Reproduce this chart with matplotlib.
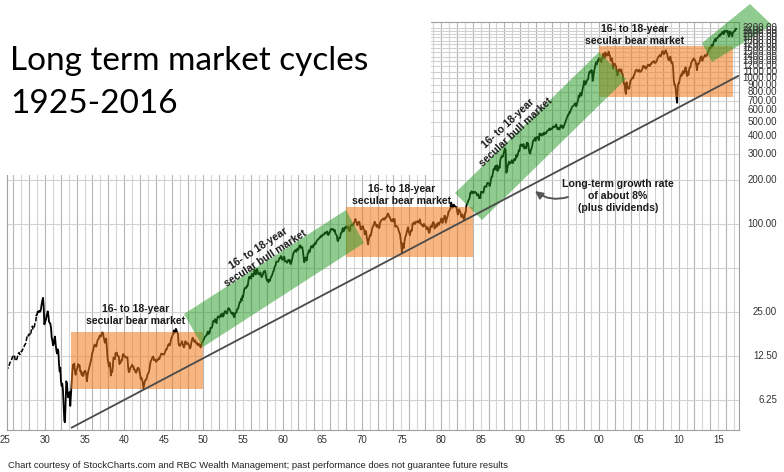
import matplotlib
matplotlib.use("Agg")
import matplotlib.pyplot as plt
from matplotlib.patches import Rectangle, Polygon

# ---------------- data (monthly S&P 500 levels) ----------------
spx_1925_1929 = [
    10.6, 10.7, 10.6, 10.3, 10.5, 10.8, 11.2, 11.4, 11.6, 11.9, 12.3, 12.5,
    12.7, 12.6, 11.8, 11.6, 11.7, 12.1, 12.6, 13.0, 13.2, 12.8, 13.0, 13.4,
    13.4, 13.8, 14.0, 14.2, 14.8, 15.0, 15.3, 16.2, 17.0, 16.8, 17.4, 17.7,
    17.5, 17.3, 18.3, 19.3, 20.0, 19.1, 19.2, 20.0, 21.2, 21.5, 23.8, 24.0,
    25.2, 25.0, 25.4, 25.1, 25.3, 26.4, 28.5, 30.1, 31.3, 27.0, 20.6, 21.4]
spx_1930s = [
    21.9, 23.0, 24.3, 25.3, 23.9, 21.5, 21.1, 20.8, 19.5, 16.8, 16.0, 14.8,
    15.0, 16.3, 17.0, 15.1, 13.7, 13.0, 13.9, 13.5, 11.1, 9.8, 10.4, 8.4,
    7.8, 8.1, 7.3, 5.8, 4.5, 4.4, 6.1, 8.4, 8.1, 6.9, 6.5, 6.9,
    7.1, 5.7, 6.8, 8.3, 9.6, 10.9, 10.3, 11.1, 9.8, 9.3, 10.0, 10.1,
    10.6, 11.0, 10.6, 10.8, 9.8, 9.9, 9.3, 9.6, 9.1, 9.3, 9.8, 9.9,
    9.8, 9.4, 8.4, 9.2, 9.8, 10.2, 10.7, 11.1, 11.6, 12.2, 13.1, 13.4,
    14.1, 14.8, 15.0, 14.7, 14.5, 15.1, 16.0, 16.3, 16.5, 17.1, 17.3, 17.0,
    17.5, 18.1, 18.1, 17.0, 16.2, 15.4, 16.1, 16.5, 14.1, 12.2, 11.4, 10.6,
    11.3, 10.9, 9.2, 9.8, 9.7, 10.6, 12.2, 12.0, 11.9, 13.1, 13.1, 13.2,
    12.5, 12.5, 12.4, 11.0, 11.3, 11.3, 11.8, 11.7, 12.8, 12.9, 12.4, 12.5]
spx_1940s = [
    12.3, 12.2, 12.2, 12.3, 10.5, 9.7, 9.8, 10.2, 10.5, 10.6, 10.9, 10.6,
    10.6, 10.1, 10.1, 9.7, 9.6, 9.8, 10.3, 10.4, 10.3, 9.9, 9.4, 8.7,
    8.9, 8.6, 8.3, 7.5, 7.9, 8.3, 8.6, 8.6, 8.8, 9.3, 9.5, 9.6,
    10.1, 10.9, 11.5, 11.7, 12.1, 12.3, 12.4, 11.7, 11.8, 11.8, 11.4, 11.5,
    11.8, 11.8, 12.1, 11.9, 12.3, 12.7, 13.0, 12.9, 12.8, 12.9, 12.8, 13.1,
    13.5, 13.9, 13.9, 14.3, 14.8, 15.1, 14.8, 14.8, 15.8, 16.5, 17.0, 17.3,
    18.0, 18.7, 18.0, 18.7, 19.2, 18.6, 18.1, 17.7, 15.1, 14.7, 14.7, 15.1,
    15.2, 15.8, 15.2, 14.6, 14.3, 14.8, 15.8, 15.6, 15.1, 15.3, 15.3, 15.0,
    14.7, 14.1, 14.3, 15.3, 16.1, 16.7, 16.4, 15.8, 15.6, 16.0, 15.4, 15.2,
    15.4, 14.8, 15.0, 15.1, 14.8, 14.3, 14.8, 15.4, 15.6, 16.0, 16.3, 16.8]
spx_1950s = [
    17.0, 17.2, 17.3, 17.9, 18.4, 17.7, 17.8, 18.4, 19.5, 19.5, 19.5, 20.4,
    21.7, 21.8, 21.5, 22.4, 21.5, 21.0, 22.4, 23.3, 23.3, 22.9, 23.0, 23.8,
    24.1, 23.3, 24.4, 23.3, 23.9, 25.0, 25.4, 25.0, 24.5, 24.5, 26.0, 26.6,
    26.4, 25.9, 25.3, 24.6, 24.5, 24.1, 24.8, 23.3, 23.0, 24.5, 24.8, 24.8,
    26.1, 26.2, 26.9, 28.3, 29.2, 29.2, 30.9, 30.0, 32.3, 31.7, 34.2, 36.0,
    36.6, 36.8, 36.6, 38.0, 37.9, 41.0, 43.5, 43.2, 43.7, 42.3, 45.5, 45.5,
    43.8, 45.3, 48.5, 48.4, 45.2, 47.0, 49.4, 47.5, 45.4, 45.6, 45.1, 46.7,
    44.7, 43.3, 44.1, 45.7, 47.4, 47.4, 47.9, 45.2, 42.4, 41.1, 41.7, 40.0,
    41.7, 40.8, 42.1, 43.4, 44.1, 45.2, 47.2, 47.8, 50.1, 51.3, 52.5, 55.2,
    55.4, 55.4, 55.4, 57.6, 58.7, 58.5, 60.5, 59.6, 56.9, 57.5, 58.3, 59.9]
spx_1960s = [
    55.6, 56.1, 55.3, 54.4, 55.8, 56.9, 55.5, 57.0, 53.5, 53.4, 55.5, 58.1,
    61.8, 63.4, 65.1, 65.3, 66.6, 64.6, 66.8, 68.1, 66.7, 68.6, 71.3, 71.6,
    68.8, 70.0, 69.6, 65.2, 59.6, 54.8, 58.2, 59.1, 56.3, 56.5, 62.3, 63.1,
    66.2, 64.3, 66.6, 69.8, 70.8, 69.4, 69.1, 72.5, 71.7, 74.0, 73.2, 75.0,
    77.0, 77.8, 79.0, 79.5, 80.4, 81.7, 83.2, 81.8, 84.2, 84.9, 84.4, 84.8,
    87.6, 87.4, 86.2, 89.1, 88.4, 84.1, 85.3, 87.2, 90.0, 92.4, 91.6, 92.4,
    92.9, 91.2, 89.2, 91.1, 86.1, 84.7, 83.6, 77.1, 76.6, 80.2, 80.5, 80.3,
    86.6, 86.8, 90.2, 94.0, 89.1, 90.6, 94.8, 93.6, 96.7, 93.3, 94.0, 96.5,
    92.2, 89.4, 90.2, 97.5, 98.7, 99.6, 97.7, 98.9, 102.7, 103.4, 108.4, 103.9,
    103.0, 98.1, 101.5, 103.7, 103.5, 97.7, 91.8, 95.5, 93.1, 97.2, 93.8, 92.1]
spx_1970s = [
    85.0, 89.5, 89.6, 81.5, 76.6, 72.7, 78.1, 81.5, 84.2, 83.3, 87.2, 92.2,
    95.9, 96.8, 100.3, 104.0, 99.6, 99.7, 95.6, 99.0, 98.3, 94.2, 94.0, 102.1,
    103.9, 106.6, 107.2, 107.7, 109.5, 107.1, 107.4, 111.1, 110.6, 111.6, 116.7, 118.1,
    116.0, 111.7, 111.5, 107.0, 105.0, 104.3, 108.2, 104.3, 108.4, 108.3, 96.0, 97.6,
    96.6, 96.2, 94.0, 90.3, 87.3, 86.0, 79.3, 72.2, 63.5, 73.9, 70.0, 68.6,
    77.0, 81.6, 83.4, 87.3, 91.2, 95.2, 88.8, 86.9, 83.9, 89.0, 91.2, 90.2,
    100.9, 99.7, 102.8, 101.6, 100.2, 104.3, 103.4, 102.9, 105.2, 102.9, 102.1, 107.5,
    102.0, 99.8, 98.4, 98.4, 96.1, 100.5, 98.9, 96.8, 96.5, 92.3, 94.8, 95.1,
    89.3, 87.0, 89.2, 97.0, 97.2, 95.5, 100.7, 103.3, 102.5, 93.2, 94.7, 96.1,
    99.9, 96.3, 101.6, 101.8, 99.1, 102.9, 103.8, 109.3, 109.3, 101.8, 106.2, 107.9]
spx_1980s = [
    114.2, 113.7, 102.1, 106.3, 111.2, 114.2, 121.7, 122.4, 125.5, 127.5, 140.5, 135.8,
    129.6, 131.3, 136.0, 132.8, 132.6, 131.2, 130.9, 122.8, 116.2, 121.9, 126.4, 122.6,
    120.4, 113.1, 112.0, 116.4, 111.9, 109.6, 107.1, 119.5, 120.4, 133.7, 138.5, 140.6,
    145.3, 148.1, 153.0, 164.4, 162.4, 168.1, 162.6, 164.4, 166.1, 163.6, 166.4, 164.9,
    163.4, 157.1, 159.2, 160.1, 150.6, 153.2, 150.7, 166.7, 166.1, 166.1, 163.6, 167.2,
    179.6, 181.2, 180.7, 179.8, 189.6, 191.9, 190.9, 188.6, 182.1, 189.8, 202.2, 211.3,
    211.8, 226.9, 238.9, 235.5, 247.4, 250.8, 236.1, 252.9, 231.3, 244.0, 249.2, 242.2,
    274.1, 284.2, 291.7, 288.4, 290.1, 304.0, 318.7, 329.8, 321.8, 224.8, 230.3, 247.1,
    257.1, 267.8, 258.9, 261.3, 262.2, 273.5, 272.0, 261.5, 271.9, 279.0, 273.7, 277.7,
    297.5, 288.9, 294.9, 309.6, 320.5, 318.0, 346.1, 351.5, 349.2, 340.4, 346.0, 353.4]
spx_1990s = [
    329.1, 331.9, 339.9, 330.8, 361.2, 358.0, 356.2, 322.6, 306.1, 304.0, 322.2, 330.2,
    343.9, 367.1, 375.2, 375.3, 389.8, 371.2, 387.8, 395.4, 387.9, 392.5, 375.2, 417.1,
    408.8, 412.7, 403.7, 415.0, 415.4, 408.1, 424.2, 414.0, 417.8, 418.7, 431.4, 435.7,
    438.8, 443.4, 451.7, 440.2, 450.2, 450.5, 448.1, 463.6, 458.9, 467.8, 461.8, 466.5,
    481.6, 467.1, 445.8, 450.9, 456.5, 444.3, 458.3, 475.5, 462.7, 472.4, 453.7, 459.3,
    470.4, 487.4, 500.7, 514.7, 533.4, 544.8, 562.1, 561.9, 584.4, 581.5, 605.4, 615.9,
    636.0, 640.4, 645.5, 654.2, 669.1, 670.6, 640.0, 652.0, 687.3, 705.3, 757.0, 740.7,
    786.2, 790.8, 757.1, 801.3, 848.3, 885.1, 954.3, 899.5, 947.3, 914.6, 955.4, 970.4,
    980.3, 1049.3, 1101.8, 1111.8, 1090.8, 1133.8, 1120.7, 957.3, 1017.0, 1098.7, 1163.6, 1229.2,
    1279.6, 1238.3, 1286.4, 1335.2, 1301.8, 1372.7, 1328.7, 1320.4, 1282.7, 1362.9, 1388.9, 1469.3]
spx_2000s = [
    1394.5, 1366.4, 1498.6, 1452.4, 1420.6, 1454.6, 1430.8, 1517.7, 1436.5, 1429.4, 1315.2, 1320.3,
    1366.0, 1239.9, 1160.3, 1249.5, 1255.8, 1224.4, 1211.2, 1133.6, 1040.9, 1059.8, 1139.5, 1148.1,
    1130.2, 1106.7, 1147.4, 1076.9, 1067.1, 989.8, 911.6, 916.1, 815.3, 776.8, 936.3, 879.8,
    855.7, 841.2, 848.2, 916.9, 963.6, 974.5, 990.3, 1008.0, 996.0, 1050.7, 1058.2, 1111.9,
    1131.1, 1144.9, 1126.2, 1107.3, 1120.7, 1140.8, 1101.7, 1104.2, 1114.6, 1130.2, 1173.8, 1211.9,
    1181.3, 1203.6, 1180.6, 1156.9, 1191.5, 1191.3, 1234.2, 1220.3, 1228.8, 1207.0, 1249.5, 1248.3,
    1280.1, 1280.7, 1294.9, 1310.6, 1270.1, 1270.2, 1276.7, 1303.8, 1335.9, 1377.9, 1400.6, 1418.3,
    1438.2, 1406.8, 1420.9, 1482.4, 1530.6, 1503.4, 1455.3, 1474.0, 1526.8, 1549.4, 1481.1, 1468.4,
    1378.6, 1330.6, 1322.7, 1385.6, 1400.4, 1280.0, 1267.4, 1282.8, 1166.4, 968.8, 896.2, 903.3,
    825.9, 735.1, 676.5, 872.8, 919.1, 919.3, 987.5, 1020.6, 1057.1, 1036.2, 1095.6, 1115.1]
spx_2010s = [
    1073.9, 1104.5, 1169.4, 1186.7, 1089.4, 1030.7, 1101.6, 1049.3, 1141.2, 1183.3, 1180.6, 1257.6,
    1286.1, 1327.2, 1325.8, 1363.6, 1345.2, 1320.6, 1292.3, 1218.9, 1131.4, 1253.3, 1247.0, 1257.6,
    1312.4, 1365.7, 1408.5, 1397.9, 1310.3, 1362.2, 1379.3, 1406.6, 1440.7, 1412.2, 1416.2, 1426.2,
    1498.1, 1514.7, 1569.2, 1597.6, 1630.7, 1606.3, 1685.7, 1633.0, 1681.6, 1756.5, 1805.8, 1848.4,
    1782.6, 1859.5, 1872.3, 1884.0, 1923.6, 1960.2, 1930.7, 2003.4, 1972.3, 2018.1, 2067.6, 2058.9,
    1995.0, 2104.5, 2067.9, 2085.5, 2107.4, 2063.1, 2103.8, 1972.2, 1920.0, 2079.4, 2080.4, 2043.9,
    1940.2, 1932.2, 2059.7, 2065.3, 2097.0, 2098.9, 2173.6, 2171.0]
series_start_years = [1925, 1930, 1940, 1950, 1960, 1970, 1980, 1990, 2000, 2010]

# annotation geometry (year, index level)
bear_boxes = [(1933.21, 1949.76, 7.43, 18.25),
              (1967.69, 1983.62, 59.6, 131.0),
              (1999.42, 2016.22, 741.0, 1657.0)]
bull_bands = [[(1947.38, 24.25), (1949.76, 14.4), (1969.95, 74.2), (1967.69, 124.9)],
              [(1981.36, 163.2), (1984.75, 106.7), (2002.80, 985.0), (1999.42, 1508.0)],
              [(2012.33, 1737.0), (2018.35, 3212.0), (2021.11, 2307.0), (2013.59, 1287.0)]]
trend_years = [1933.21, 2016.97]
trend_values = [4.02, 1040.0]
bear_label_pos = [(1941.36, 24.05), (1974.72, 159.5), (2003.93, 1986.0)]
bull_label_pos = [(1957.16, 63.4, 33), (1988.51, 454.8, 43)]

x_label_years = list(range(1925, 2016, 5))
grid_years = list(range(1926, 2018))
y_label_values = [6.25, 12.5, 25, 100, 200, 300, 400, 500, 600, 700, 800, 900,
                  1000, 1100, 1200, 1300, 1400, 1500, 1600, 1700, 1800, 1900,
                  2000, 2100, 2200]
y_grid_values = [6.25, 12.5, 25, 50, 100] + list(range(200, 2300, 100))


def tick_pos(y):
    # position of the chart's year gridlines/labels on the data time scale
    return 1929.7 + (45 + (y - 1930) * 7.92 - 43) / 7.975


plt.rcParams['font.family'] = ['Liberation Sans', 'DejaVu Sans']

W, H = 784, 472
fig = plt.figure(figsize=(W / 100, H / 100), dpi=100)
ax = fig.add_axes([7 / W, 42 / H, 732 / W, 408 / H])
ax.set_yscale('log')
ax.set_xlim(1925.19, 2016.97)
ax.set_ylim(3.896, 2419)
ax.set_xticks([])
ax.set_yticks([])
ax.minorticks_off()
for s in ax.spines.values():
    s.set_color('#a0a0a0')
    s.set_linewidth(0.8)

# grid
for yr in grid_years:
    ax.axvline(tick_pos(yr), color='#b4b4b4' if yr % 2 == 0 else '#d4d4d4',
               lw=0.8, zorder=1)
for v in y_grid_values:
    ax.axhline(v, color='#d2d2d2', lw=0.8, zorder=1)

# price series
all_t, all_v = [], []
for start, vals in zip(series_start_years,
                       [spx_1925_1929, spx_1930s, spx_1940s, spx_1950s, spx_1960s,
                        spx_1970s, spx_1980s, spx_1990s, spx_2000s, spx_2010s]):
    for i, v in enumerate(vals):
        all_t.append(start + (i + 0.5) / 12)
        all_v.append(v)
n_early = 46
ax.plot(all_t[:n_early + 1], all_v[:n_early + 1], color='black', lw=1.1,
        dashes=(3, 1.2), zorder=2)
ax.plot(all_t[n_early:], all_v[n_early:], color='black', lw=1.3, zorder=2)

# shaded regions
for x0, x1, y0, y1 in bear_boxes:
    ax.add_patch(Rectangle((x0, y0), x1 - x0, y1 - y0, facecolor='#f27a1a',
                           alpha=0.55, lw=0, zorder=3))
for band in bull_bands:
    ax.add_patch(Polygon(band, closed=True, facecolor='#229a22', alpha=0.5,
                         lw=0, zorder=3, clip_on=False))

# long-term trend line
ax.plot(trend_years, trend_values, color='#4a4a4a', lw=1.3, zorder=4,
        solid_capstyle='butt')

lab_kw = dict(fontsize=7.6, fontweight='bold', color='#1a1a1a', ha='center',
              va='center', zorder=6, linespacing=1.25)
for x, y in bear_label_pos:
    ax.text(x, y, '16- to 18-year\nsecular bear market', **lab_kw)
for x, y, rot in bull_label_pos:
    ax.text(x, y, '16- to 18-year\nsecular bull market', rotation=rot,
            rotation_mode='anchor', **lab_kw)

ax.text(2001.80, 155.7, 'Long-term growth rate\nof about 8%\n(plus dividends)',
        **lab_kw)
ax.annotate('', xy=(1991.39, 168.5), xytext=(1995.53, 153.3),
            arrowprops=dict(arrowstyle='-|>,head_length=0.45,head_width=0.22',
                            color='#555555', lw=1.4, shrinkA=0, shrinkB=0,
                            connectionstyle='arc3,rad=-0.25'), zorder=6)

# axis labels
ytr = ax.get_yaxis_transform()
for v in y_label_values:
    ax.text(1.0519, v, f'{v:.2f}', transform=ytr, ha='right', va='center',
            fontsize=7, color='#333333', clip_on=False)
xtr = ax.get_xaxis_transform()
for yr in x_label_years:
    ax.text(tick_pos(yr), -0.0245, f'{yr % 100:02d}', transform=xtr,
            ha='center', va='center', fontsize=7, color='#333333', clip_on=False)

# white title panel
fig.patches.append(Rectangle((0, 297 / H), 431 / W, 175 / H,
                             transform=fig.transFigure, facecolor='white',
                             edgecolor='none', zorder=5))
fig.text(10 / W, 1 - 70 / H, 'Long term market cycles', fontsize=24,
         family='Lato', va='baseline', ha='left', zorder=7)
fig.text(10 / W, 1 - 113 / H, '1925-2016', fontsize=24, family='Lato',
         va='baseline', ha='left', zorder=7)

fig.text(8 / W, 6 / H,
         'Chart courtesy of StockCharts.com and RBC Wealth Management; past '
         'performance does not guarantee future results',
         fontsize=6.8, color='#222222', va='center', ha='left')

fig.savefig('out.png', dpi=100)
